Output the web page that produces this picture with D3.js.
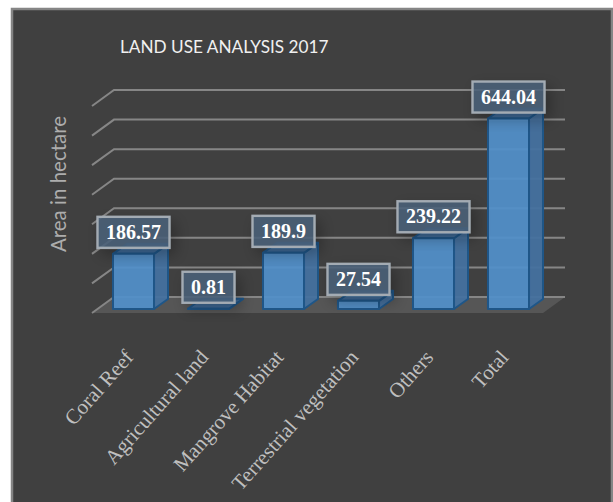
<!DOCTYPE html>
<html>
<head>
<meta charset="utf-8">
<script src="https://cdn.jsdelivr.net/npm/d3@7/dist/d3.min.js"></script>
<style>
  html, body { margin: 0; padding: 0; background: #fff; }
  svg { display: block; }
</style>
</head>
<body>
<div id="chart"></div>
<script>
const categories = ["Coral Reef", "Agricultural land", "Mangrove Habitat", "Terrestrial vegetation", "Others", "Total"];
const areaValues = [186.57, 0.81, 189.9, 27.54, 239.22, 644.04];
const valueLabels = ["186.57", "0.81", "189.9", "27.54", "239.22", "644.04"];
const gridValues = [0, 100, 200, 300, 400, 500, 600, 700];
const chartTitle = "LAND USE ANALYSIS 2017";
const yTitle = "Area in hectare";

const width = 613, height = 502;
const wallDepth = { dx: 22, dy: -16 };
const barDepth = { dx: 14, dy: -10 };

const svg = d3.select("#chart").append("svg").attr("width", width).attr("height", height);

const defs = svg.append("defs");
const shadow = defs.append("filter").attr("id", "boxShadow")
  .attr("x", "-30%").attr("y", "-40%").attr("width", "170%").attr("height", "200%");
shadow.append("feDropShadow").attr("dx", 5).attr("dy", 6).attr("stdDeviation", 7)
  .attr("flood-color", "#000").attr("flood-opacity", 0.3);

// Chart panel
svg.append("rect").attr("x", 12).attr("y", 9).attr("width", 600).attr("height", 500)
  .attr("fill", "#404040").attr("stroke", "#858585").attr("stroke-width", 2.5);

const x = d3.scaleBand().domain(categories).range([96, 546]).paddingInner(0.453).paddingOuter(0.2265);
const y = d3.scaleLinear().domain([0, 700]).range([309, 102]);

// Floor and gridlines: the front edge sits on the y scale shifted down by the floor inset
const floorFrontY = y(0) + 4, frontLeft = 92, frontRight = 543;
svg.append("path")
  .attr("d", d3.line()([
    [frontLeft, floorFrontY],
    [frontLeft + wallDepth.dx, floorFrontY + wallDepth.dy],
    [frontRight + wallDepth.dx, floorFrontY + wallDepth.dy],
    [frontRight, floorFrontY]
  ]) + "Z")
  .attr("fill", "#565656");

const grid = svg.append("g").attr("fill", "none").attr("stroke", "#868686").attr("stroke-width", 2);
gridValues.forEach(v => {
  const yy = y(v) + 4;
  grid.append("path").attr("d", d3.line()([
    [frontLeft, yy],
    [frontLeft + wallDepth.dx, yy + wallDepth.dy],
    [frontRight + wallDepth.dx, yy + wallDepth.dy]
  ]));
});

// Bars: side, top, then front face, slightly see-through so the grid shows
const bars = svg.append("g").selectAll("g").data(categories).join("g");
const barStroke = "#1f5688";
bars.each(function (c, i) {
  const g = d3.select(this);
  const x0 = x(c), x1 = x0 + x.bandwidth(), y0 = y(0), y1 = y(areaValues[i]);
  const d = barDepth;
  const poly = pts => d3.line()(pts) + "Z";
  g.append("path").attr("d", poly([[x1, y0], [x1 + d.dx, y0 + d.dy], [x1 + d.dx, y1 + d.dy], [x1, y1]]))
    .attr("fill", "#44719f").attr("fill-opacity", 0.95);
  g.append("path").attr("d", poly([[x0, y1], [x0 + d.dx, y1 + d.dy], [x1 + d.dx, y1 + d.dy], [x1, y1]]))
    .attr("fill", "#3f6d9c").attr("fill-opacity", 0.95);
  g.append("path").attr("d", poly([[x0, y0], [x1, y0], [x1, y1], [x0, y1]]))
    .attr("fill", "#5290ca").attr("fill-opacity", 0.93);
  g.selectAll("path").attr("stroke", barStroke).attr("stroke-width", 2).attr("stroke-linejoin", "round");
});

// Category axis with slanted labels
const xAxis = svg.append("g").attr("transform", `translate(0, ${y(0) + 49})`)
  .call(d3.axisBottom(x).tickSize(0));
xAxis.select(".domain").remove();
xAxis.selectAll("text")
  .attr("text-anchor", "end")
  .attr("x", 0).attr("y", 0).attr("dy", 0)
  .attr("transform", "translate(1, 0) rotate(-48.5)")
  .attr("fill", "#bfbfbf")
  .style("font-family", "'Liberation Serif', serif")
  .style("font-size", "21px");

// Value labels
const labels = svg.append("g").selectAll("g").data(categories).join("g");
labels.each(function (c, i) {
  const g = d3.select(this);
  const cx = x(c) + x.bandwidth() / 2;
  const bottom = y(areaValues[i]) - 6;
  const boxH = 31;
  const box = g.append("rect").attr("fill", "#4a6179").attr("fill-opacity", 0.85)
    .attr("stroke", "#a3abb3").attr("stroke-width", 2.4)
    .attr("filter", "url(#boxShadow)");
  const text = g.append("text").text(valueLabels[i])
    .attr("x", cx).attr("y", bottom - boxH / 2 + 6.5)
    .attr("text-anchor", "middle").attr("fill", "#fff")
    .style("font-family", "'Liberation Serif', serif")
    .style("font-weight", "bold").style("font-size", "20px");
  const w = text.node().getComputedTextLength() + 17;
  box.attr("x", cx - w / 2).attr("y", bottom - boxH).attr("width", w).attr("height", boxH);
});

// Titles
svg.append("text").text(chartTitle).attr("x", 120).attr("y", 53)
  .attr("fill", "#f0f0f0").style("font-family", "Lato, sans-serif").style("font-size", "17.2px");
svg.append("text").text(yTitle).attr("transform", "translate(66, 184) rotate(-90)")
  .attr("text-anchor", "middle").attr("fill", "#adadad")
  .style("font-family", "Lato, sans-serif").style("font-size", "20.5px");
</script>
</body>
</html>
